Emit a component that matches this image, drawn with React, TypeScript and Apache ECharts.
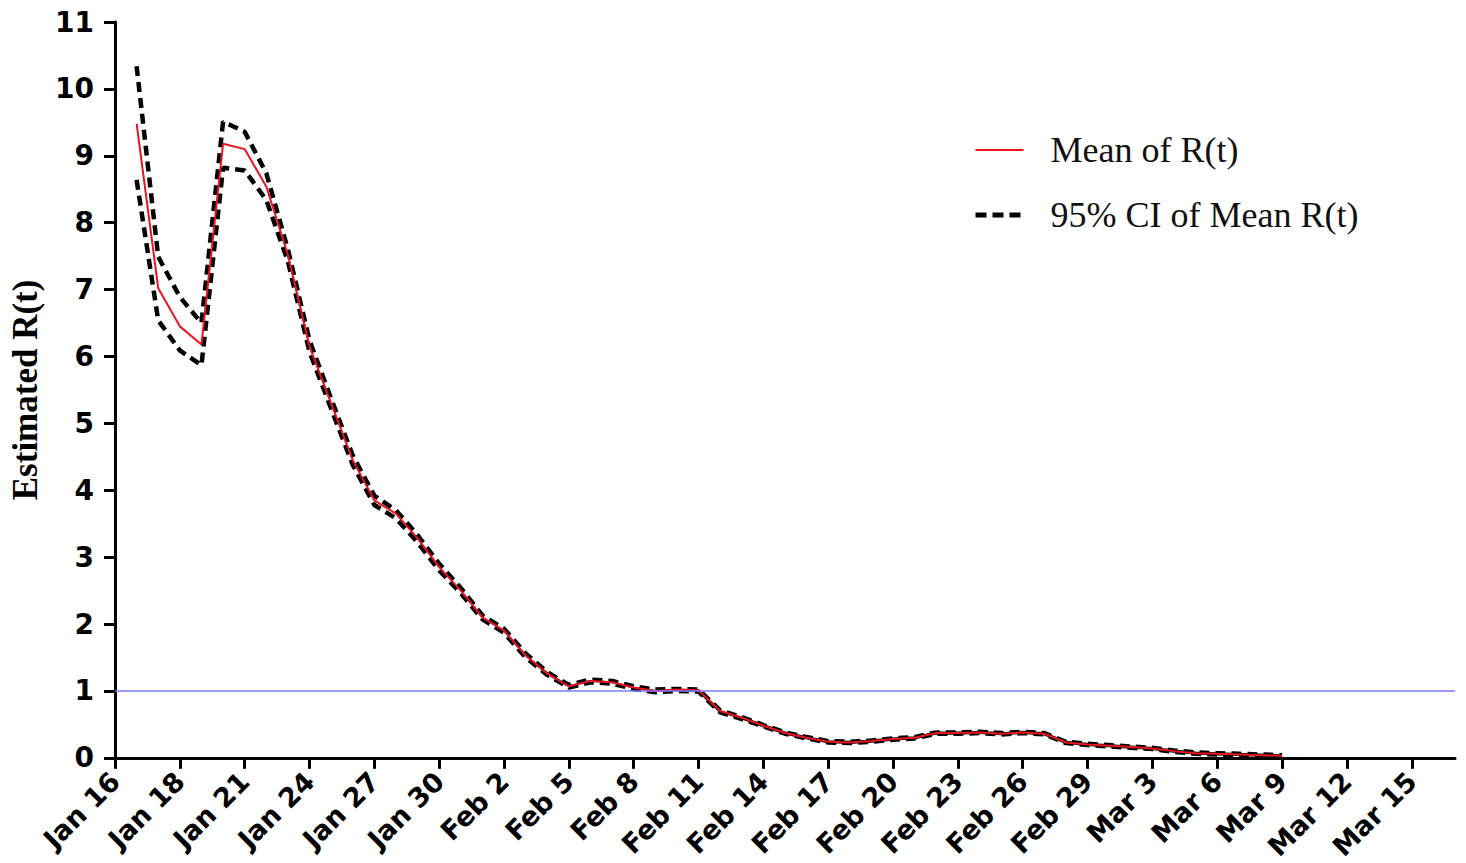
import React, { useEffect, useRef } from "react";
import * as echarts from "echarts";

// x = day index on the axis (tick every 3 days), data begins at day 1
const tickValues = [0, 3, 6, 9, 12, 15, 18, 21, 24, 27, 30, 33, 36, 39, 42, 45, 48, 51, 54, 57, 60];
const tickLabels = [
  "Jan 16", "Jan 18", "Jan 21", "Jan 24", "Jan 27", "Jan 30", "Feb 2", "Feb 5", "Feb 8", "Feb 11",
  "Feb 14", "Feb 17", "Feb 20", "Feb 23", "Feb 26", "Feb 29", "Mar 3", "Mar 6", "Mar 9", "Mar 12", "Mar 15",
];
const FIRST_DAY = 1;

const meanR = [
  9.48, 7.02, 6.45, 6.18, 9.18, 9.1, 8.54, 7.52, 6.15, 5.3,
  4.45, 3.85, 3.65, 3.28, 2.85, 2.5, 2.1, 1.9, 1.53, 1.26,
  1.07, 1.15, 1.13, 1.05, 1.0, 1.02, 1.01, 0.7, 0.6, 0.48,
  0.37, 0.3, 0.24, 0.23, 0.25, 0.28, 0.3, 0.37, 0.37, 0.38,
  0.36, 0.38, 0.36, 0.23, 0.2, 0.18, 0.16, 0.14, 0.1, 0.07,
  0.06, 0.05, 0.04, 0.03,
];
const upperCI = [
  10.34, 7.49, 6.89, 6.5, 9.51, 9.36, 8.74, 7.6, 6.24, 5.37,
  4.52, 3.92, 3.7, 3.33, 2.9, 2.54, 2.13, 1.93, 1.56, 1.28,
  1.09, 1.17, 1.15, 1.07, 1.02, 1.03, 1.02, 0.71, 0.61, 0.49,
  0.38, 0.31, 0.25, 0.24, 0.26, 0.29, 0.31, 0.38, 0.38, 0.39,
  0.37, 0.39, 0.37, 0.24, 0.21, 0.19, 0.17, 0.15, 0.11, 0.08,
  0.07, 0.06, 0.05, 0.04,
];
const lowerCI = [
  8.64, 6.54, 6.09, 5.87, 8.82, 8.78, 8.34, 7.42, 6.07, 5.22,
  4.38, 3.78, 3.58, 3.22, 2.8, 2.46, 2.07, 1.87, 1.5, 1.24,
  1.05, 1.13, 1.11, 1.03, 0.98, 1.0, 0.99, 0.68, 0.58, 0.47,
  0.36, 0.29, 0.23, 0.22, 0.24, 0.27, 0.29, 0.36, 0.36, 0.37,
  0.35, 0.37, 0.35, 0.22, 0.19, 0.17, 0.15, 0.13, 0.09, 0.06,
  0.05, 0.04, 0.03, 0.02,
];
const thresholdR = 1;

const toPairs = (arr: number[]) => arr.map((v, i) => [FIRST_DAY + i, v]);

export default function App() {
  const ref = useRef<HTMLDivElement>(null);
  useEffect(() => {
    if (!ref.current) return;
    const chart = echarts.init(ref.current, undefined, { renderer: "svg" });
    const dashStyle = { color: "#000", width: 4.5, type: [10, 6] as any, cap: "butt" as any };
    chart.setOption({
      animation: false,
      backgroundColor: "#fff",
      grid: { left: 114, right: 11, top: 22, bottom: 105, containLabel: false },
      legend: {
        orient: "vertical",
        left: 968,
        top: 127,
        itemWidth: 48,
        itemHeight: 14,
        itemGap: 29,
        data: [
          { name: "Mean of R(t)", lineStyle: { color: "#e8141e", width: 2 } },
          { name: "95% CI of Mean R(t)", lineStyle: { color: "#000", width: 5, type: [11, 6], cap: "butt" } },
        ],
        itemStyle: { opacity: 0 },
        textStyle: {
          fontFamily: "Liberation Serif",
          fontSize: 36,
          color: "#111",
          padding: [0, 0, 0, 22],
        },
      },
      xAxis: {
        type: "value",
        min: 0,
        max: 62,
        interval: 3,
        splitLine: { show: false },
        axisLine: { show: true, onZero: false, lineStyle: { color: "#000", width: 3 } },
        axisTick: { show: true, length: 11, lineStyle: { color: "#000", width: 3 }, customValues: tickValues },
        axisLabel: {
          customValues: tickValues,
          rotate: 45,
          margin: 19,
          fontFamily: "DejaVu Sans",
          fontWeight: "bold",
          fontSize: 27,
          color: "#000",
          formatter: (v: number) => {
            const idx = tickValues.indexOf(Math.round(v));
            return idx >= 0 ? tickLabels[idx] : "";
          },
        },
      },
      yAxis: {
        type: "value",
        min: 0,
        max: 11,
        interval: 1,
        name: "Estimated R(t)",
        nameLocation: "middle",
        nameGap: 72,
        nameTextStyle: {
          fontFamily: "Liberation Serif",
          fontWeight: "bold",
          fontSize: 35,
          color: "#000",
        },
        splitLine: { show: false },
        axisLine: { show: true, lineStyle: { color: "#000", width: 3 } },
        axisTick: { show: true, length: 11, lineStyle: { color: "#000", width: 3 } },
        axisLabel: {
          margin: 21,
          fontFamily: "DejaVu Sans",
          fontWeight: "bold",
          fontSize: 28,
          color: "#000",
        },
      },
      series: [
        {
          name: "95% CI of Mean R(t)",
          type: "line",
          symbol: "none",
          data: toPairs(upperCI),
          lineStyle: dashStyle,
          itemStyle: { color: "#000" },
          z: 2,
        },
        {
          name: "95% CI of Mean R(t)",
          type: "line",
          symbol: "none",
          data: toPairs(lowerCI),
          lineStyle: dashStyle,
          itemStyle: { color: "#000" },
          z: 2,
        },
        {
          name: "Mean of R(t)",
          type: "line",
          symbol: "none",
          data: toPairs(meanR),
          lineStyle: { color: "#e8141e", width: 2 },
          itemStyle: { color: "#e8141e" },
          z: 3,
          markLine: {
            silent: true,
            symbol: "none",
            label: { show: false },
            lineStyle: { color: "#7b7bff", width: 1.5, type: "solid" },
            data: [{ yAxis: thresholdR }],
          },
        },
      ],
    });
    return () => chart.dispose();
  }, []);
  return (
    <div
      ref={ref}
      style={{ position: "fixed", left: 0, top: 0, width: 1466, height: 863, background: "#fff" }}
    />
  );
}
